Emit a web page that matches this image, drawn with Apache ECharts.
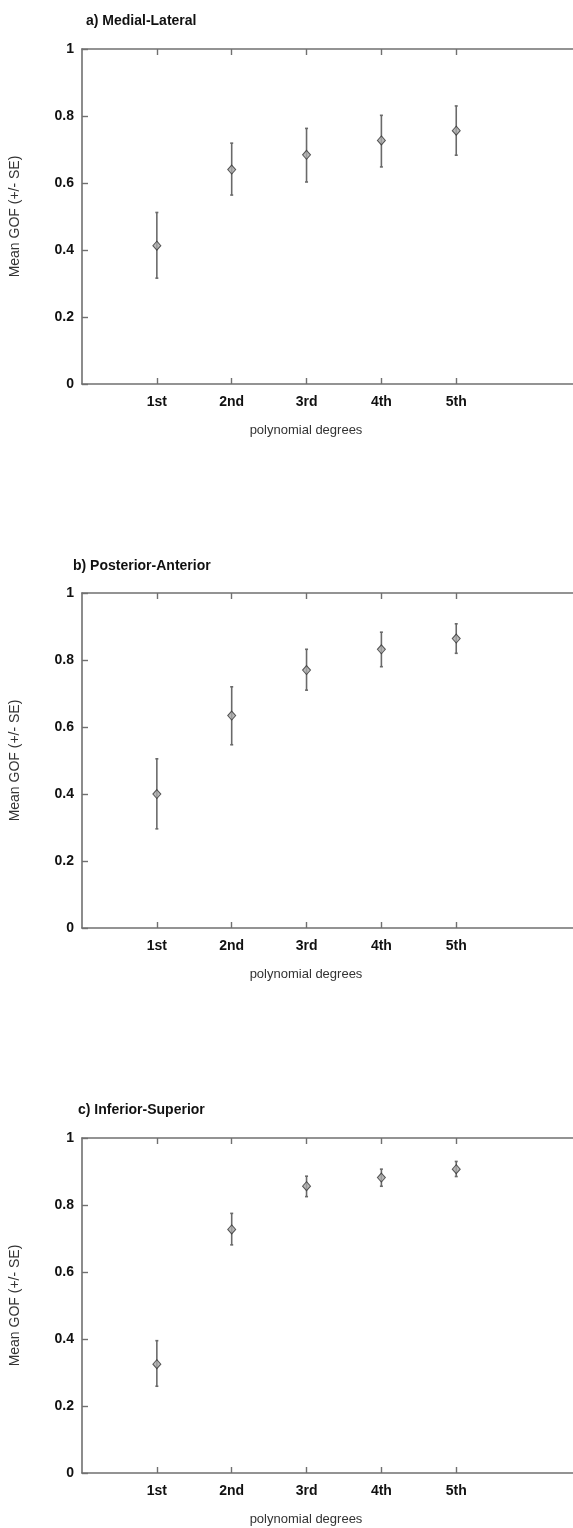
<!DOCTYPE html>
<html>
<head>
<meta charset="utf-8">
<script src="https://cdn.jsdelivr.net/npm/echarts@6/dist/echarts.min.js"></script>
<style>
  html, body { margin: 0; padding: 0; background: #fff; }
  #chart { width: 573px; height: 1528px; }
</style>
</head>
<body>
<div id="chart"></div>
<script>
// polynomial degree categories (x positions 1..5)
const degreeLabels = ['1st', '2nd', '3rd', '4th', '5th'];
const degreePos = [1, 2, 3, 4, 5];
const yTicks = [0, 0.2, 0.4, 0.6, 0.8, 1];

const panelTitles = ['a) Medial-Lateral', 'b) Posterior-Anterior', 'c) Inferior-Superior'];

// a) Medial-Lateral
const mlMean = [0.413, 0.640, 0.684, 0.727, 0.756];
const mlLow  = [0.316, 0.564, 0.603, 0.648, 0.683];
const mlHigh = [0.512, 0.719, 0.763, 0.802, 0.830];
// b) Posterior-Anterior
const paMean = [0.400, 0.634, 0.770, 0.832, 0.864];
const paLow  = [0.296, 0.547, 0.710, 0.780, 0.820];
const paHigh = [0.505, 0.720, 0.832, 0.883, 0.908];
// c) Inferior-Superior
const isMean = [0.325, 0.727, 0.856, 0.882, 0.907];
const isLow  = [0.259, 0.681, 0.825, 0.856, 0.885];
const isHigh = [0.395, 0.775, 0.886, 0.907, 0.930];

const panels = [
  { mean: mlMean, low: mlLow, high: mlHigh, top: 49,   titleX: 81, titleY: 9 },
  { mean: paMean, low: paLow, high: paHigh, top: 593,  titleX: 68, titleY: 554 },
  { mean: isMean, low: isLow, high: isHigh, top: 1138, titleX: 73, titleY: 1098 }
];
const plotH = 335;
const axisColor = '#707070';
const font = 'Liberation Sans, Arial, Helvetica, sans-serif';

const chart = echarts.init(document.getElementById('chart'));

const grid = [], xAxis = [], yAxis = [], series = [], title = [], graphic = [];

panels.forEach(function (p, i) {
  grid.push({ left: 80, right: 0, top: p.top, height: plotH });

  title.push({
    text: panelTitles[i], left: p.titleX, top: p.titleY,
    textStyle: { fontFamily: font, fontSize: 14, fontWeight: 'bold', color: '#111' }
  });

  // bottom axis
  xAxis.push({
    type: 'value', gridIndex: i, min: 0, max: 6.56, position: 'bottom',
    splitLine: { show: false },
    axisLine: { show: true, lineStyle: { color: axisColor, width: 1.6 } },
    axisTick: { show: true, inside: true, length: 6, customValues: degreePos,
      lineStyle: { color: axisColor, width: 1.4 } },
    axisLabel: { show: true, customValues: degreePos, margin: 11,
      fontFamily: font, fontSize: 14, fontWeight: 'bold', color: '#111',
      formatter: function (v) { return degreeLabels[Math.round(v) - 1] || ''; } }
  });
  // top border with ticks
  xAxis.push({
    type: 'value', gridIndex: i, min: 0, max: 6.56, position: 'top',
    splitLine: { show: false },
    axisLine: { show: true, lineStyle: { color: axisColor, width: 1.6 } },
    axisTick: { show: true, inside: true, length: 6, customValues: degreePos,
      lineStyle: { color: axisColor, width: 1.4 } },
    axisLabel: { show: false }
  });

  yAxis.push({
    type: 'value', gridIndex: i, min: 0, max: 1, interval: 0.2,
    name: 'Mean GOF (+/- SE)', nameLocation: 'middle', nameGap: 60,
    nameTextStyle: { fontFamily: font, fontSize: 14, color: '#333' },
    splitLine: { show: false },
    axisLine: { show: true, lineStyle: { color: axisColor, width: 1.6 } },
    axisTick: { show: true, inside: true, length: 6,
      lineStyle: { color: axisColor, width: 1.4 } },
    axisLabel: { margin: 8, fontFamily: font, fontSize: 14, fontWeight: 'bold', color: '#111' }
  });

  // error bars
  series.push({
    type: 'custom', xAxisIndex: i * 2, yAxisIndex: i,
    data: degreePos.map(function (x, k) { return [x, p.low[k], p.high[k]]; }),
    renderItem: function (params, api) {
      const lo = api.coord([api.value(0), api.value(1)]);
      const hi = api.coord([api.value(0), api.value(2)]);
      const cap = 1.5;
      const st = { stroke: '#6a6a6a', lineWidth: 1.6 };
      return {
        type: 'group',
        children: [
          { type: 'line', shape: { x1: lo[0], y1: lo[1], x2: hi[0], y2: hi[1] }, style: st },
          { type: 'line', shape: { x1: lo[0] - cap, y1: lo[1], x2: lo[0] + cap, y2: lo[1] }, style: st },
          { type: 'line', shape: { x1: hi[0] - cap, y1: hi[1], x2: hi[0] + cap, y2: hi[1] }, style: st }
        ]
      };
    },
    silent: true, z: 2
  });

  // means
  series.push({
    type: 'scatter', xAxisIndex: i * 2, yAxisIndex: i,
    data: degreePos.map(function (x, k) { return [x, p.mean[k]]; }),
    symbol: 'diamond', symbolSize: [8, 9],
    itemStyle: { color: '#a8a8a8', borderColor: '#333', borderWidth: 1 },
    z: 3
  });

  // x-axis name, centred under the 3rd degree as in the original
  graphic.push({
    type: 'text', x: 306, y: p.top + plotH + 46,
    style: { text: 'polynomial degrees', fontFamily: font, fontSize: 13, fill: '#333',
      align: 'center', verticalAlign: 'middle' }
  });
});

chart.setOption({
  backgroundColor: '#fff',
  animation: false,
  title: title,
  grid: grid,
  xAxis: xAxis,
  yAxis: yAxis,
  series: series,
  graphic: graphic
});
</script>
</body>
</html>
